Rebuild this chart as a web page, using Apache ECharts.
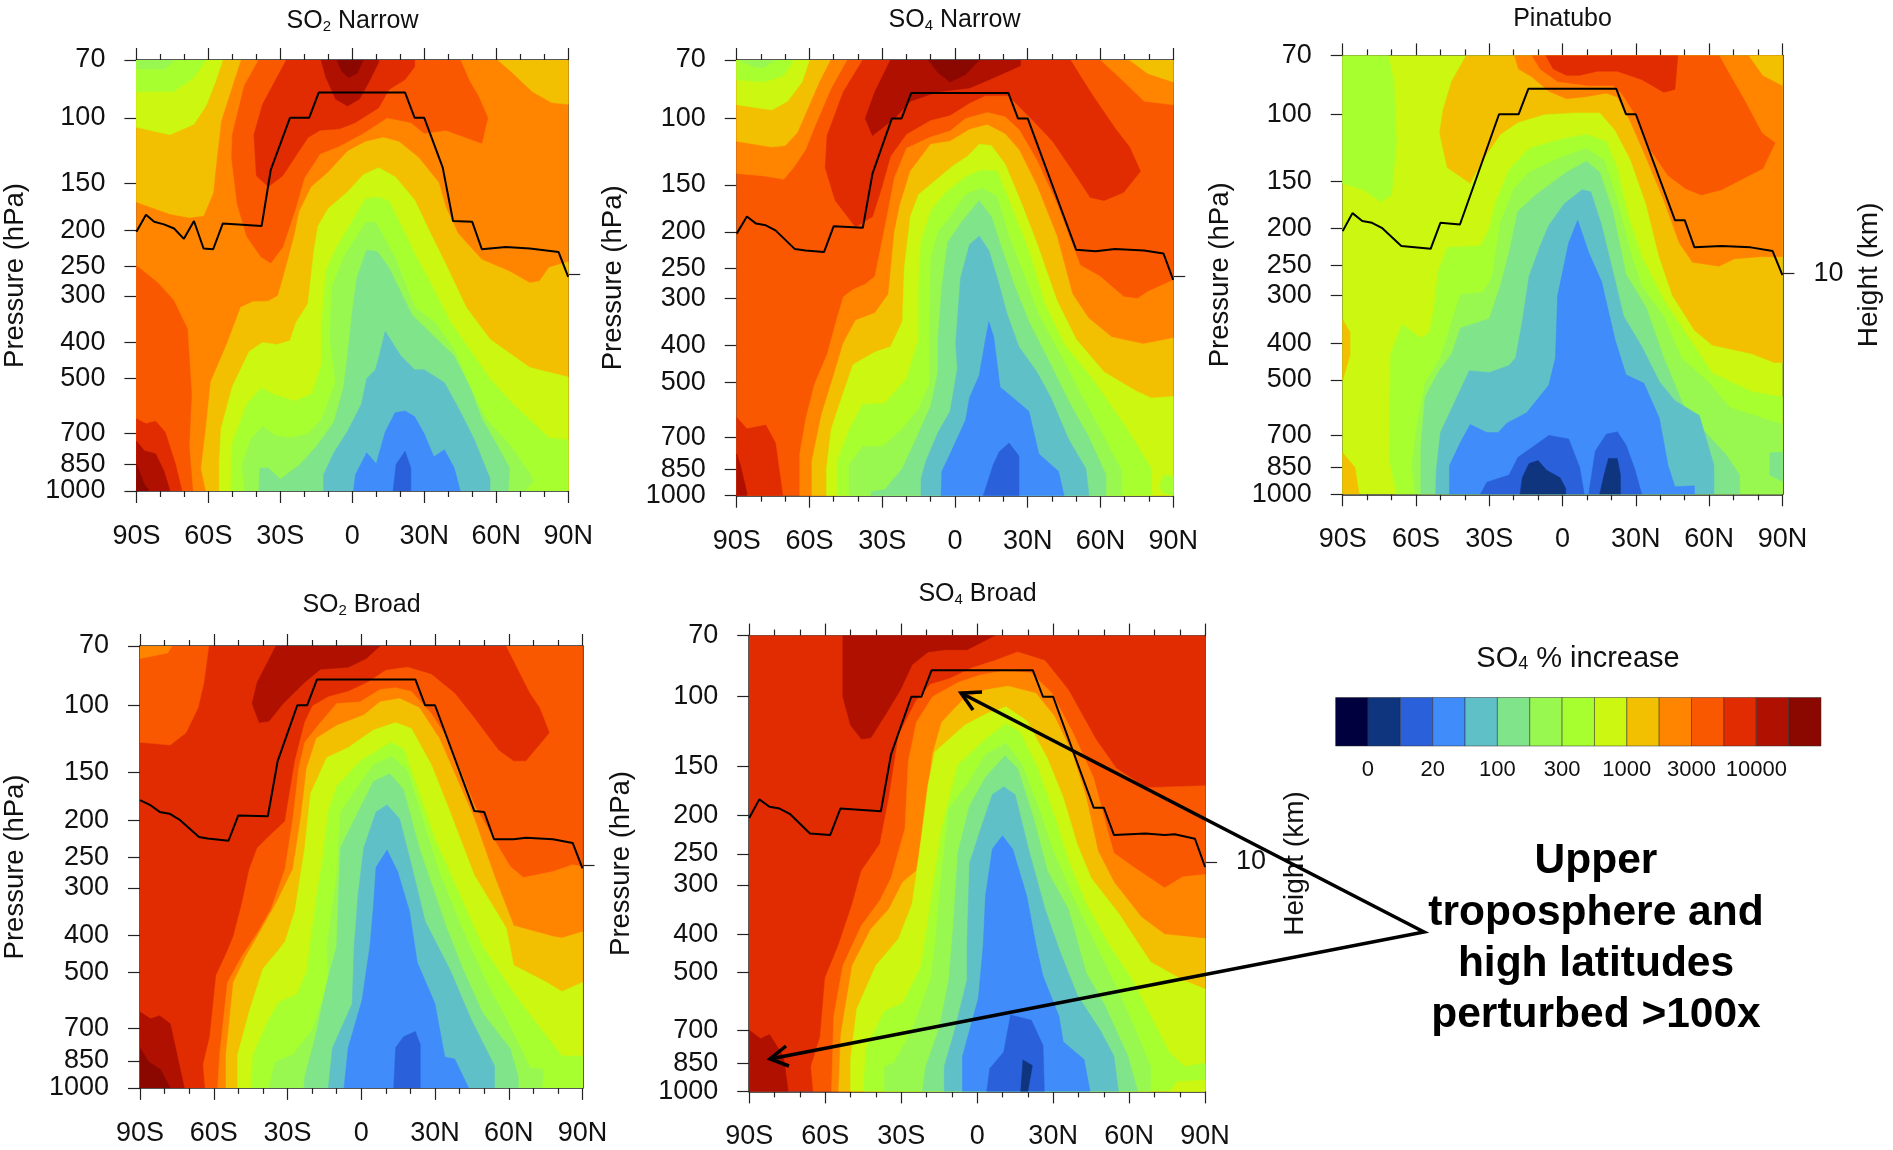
<!DOCTYPE html>
<html><head><meta charset="utf-8"><style>html,body{margin:0;padding:0;background:#fff}#c{width:1893px;height:1150px}</style>
<script src="https://cdn.jsdelivr.net/npm/echarts@6/dist/echarts.min.js"></script></head><body><div id="c"></div>
<script>
const bandColors=['#00003f','#10357f','#2a60da','#3f8cfa','#60c0c8','#80e58a','#98f850','#a8ff30','#cbf710','#f2c000','#ff8500','#f95800','#e02c00','#af1000','#8b0800'];
const legendLabels={1:'0',3:'20',5:'100',7:'300',9:'1000',11:'3000',13:'10000'};
const latTicks={'-90':'90S','-60':'60S','-30':'30S','0':'0','30':'30N','60':'60N','90':'90N'};
const pressureTicks=[70,100,150,200,250,300,400,500,700,850,1000];
const bottomPressure=1000;
const height10kmPressure=262;

// Contours: [band, left edge from apex, right edge from apex] in [lat, hPa, lat, hPa...]
const so2Narrow=[
[10,[-90,70,90,70,90,1000,-90,1000]],
[9,[-90,70,-46.5,70,-50,82,-54.7,102,-57,137,-58,159,-62,183,-68,185,-76,181,-90,168]],
[8,[-90,70,-54,70,-57,80,-61,93,-66,104,-76,111,-90,106]],
[7,[-90,70,-61,70,-66,78,-74.5,85,-90,85]],
[6,[-90,70,-74,70,-78,74,-90,74]],
[9,[60.7,70,67,76,75,85,83,91,90,92,90,70]],
[11,[-39,70,-45,82,-50,111,-50.3,128,-48,170,-44,208,-38,236,-34,245,-29,222,-24,178,-20,145,-13.5,125,-5.3,119,4.6,110,14.5,100,24.4,103,30,110,39,108,54,117,56.5,100,52.4,87,49,80,45,70]],
[12,[-27.5,70,-37.4,92,-41,111,-40,143,-35,153,-29,143,-18.5,113,-13.5,108,-5.3,107,1.3,103,11,94,15.3,84,22,79,26,73,26,70]],
[13,[-13,70,-11,78,-7,89,-2,93,3,89,7,80,11,71,11,70]],
[14,[-6.4,70,-4.4,75,-1.6,78,2,76,4.6,70]],
[11,[-90,249,-81,277,-74.5,308,-68.7,368,-67,550,-68,760,-66.5,1000,-90,1000]],
[12,[-90,640,-86,660,-82,650,-78,695,-73.7,848,-71,1000,-90,1000]],
[13,[-90,735,-86.7,780,-82,795,-78.5,885,-76,1000,-90,1000]],
[14,[-90,845,-86.7,960,-85,990,-85,1000,-90,1000]],
[9,[13,113,5.4,116,-2,123,-10,140,-17,153,-22,178,-24,205,-28,257,-31,300,-35,310,-41.5,311,-46.5,322,-52,400,-59,510,-61,680,-63,870,-61,1000],[19.5,116,27.7,128,36,149,39,174,44,204,54,240,65.6,258,74,277,78,274,82,252,90,243,90,1000]],
[8,[11,136,4.6,142,-2,158,-10,175,-14.3,195,-16,227,-18.5,315,-23.4,353,-26,396,-31.6,405,-37.4,400,-43,423,-50,525,-54.7,680,-55.5,848,-55.5,1000],[18,144,26,166,32.6,204,39,247,47.5,322,57.4,392,74,467,90,495,90,1000]],
[7,[10.4,163,5.4,165,0,189,-7,225,-11,258,-12.7,353,-12.7,456,-16.8,550,-24,574,-31.6,555,-38,530,-44,585,-50,745,-50.6,1000],[15.3,167,21,198,26,231,32.6,277,41,353,49,418,57.4,500,67,585,82,720,90,730,90,1000]],
[6,[9.6,190,5.4,191,-3.6,236,-8.6,285,-9.4,392,-7,512,-12.7,640,-18.5,703,-26,720,-31.6,712,-37.4,672,-42.3,727,-46,848,-45,1000],[17.8,236,21,267,26,322,34.3,353,42.5,418,47.5,500,55.7,640,65.6,752,74,895,75.5,940,72,1000]],
[5,[6,226,2,267,0,330,-2,435,-3.6,525,-7.7,655,-15,760,-21.8,848,-30,930,-35,868,-38.6,868,-39,1000],[10.4,228,15.3,252,21,300,25,338,32.6,377,42.5,435,49,525,54,640,60.7,760,65.6,868,65,1000]],
[4,[13.7,373,11.2,435,9.6,473,6,500,3.8,585,-2,692,-7.7,790,-12,905,-12,1000],[20.3,435,26,473,30,473,38.4,512,45,612,50.8,727,57.4,925,57.4,1000]],
[3,[17.8,617,22,610,26,632,30,703,34,810,38.4,775,42.5,868,45,1000,.5,1000,1.3,905,6,790,10,845,13.7,695]],
[2,[17,1000,18.3,848,22,782,24.4,868,24.4,1000]]
];
const so4Narrow=[
[11,[-90,70,90,70,90,1000,-90,1000]],
[10,[-90,70,-44.5,70,-51,83,-57.5,104,-61.6,121,-66.5,135,-70.6,145,-78.8,142,-90,140]],
[9,[-90,70,-51.4,70,-56,80,-61,95,-65,109,-70,118,-75.5,119,-90,115]],
[8,[-90,70,-60,70,-63,80,-69,90,-75.5,95,-90,92]],
[7,[-90,70,-66.5,70,-70.6,77,-78.8,80,-90,79]],
[6,[-89,70,-83,73,-79,73.5,-74,70]],
[10,[60,70,68,78,78,90,90,92,90,70]],
[9,[72,70,79.5,76,90,80,90,70]],
[12,[-38,70,-46,85,-52.7,111,-53.5,135,-49.4,165,-41,194,-34,182,-30,151,-26.6,126,-20,110,-10,101,-2,98,6,91,12.6,87,22,87,32,101,40.3,115,50,142,55.8,162,61.5,165,69.6,157,76.5,138,72,119,66.4,107,56.6,86.5,47.6,70]],
[13,[-26.6,70,-33,85,-37,100,-34,111,-25,100,-18.4,90,-7,85,6,83,14,79,27,72.5,27,70]],
[14,[-11,70,-7,75.5,-2,80,4.4,76.5,10,70]],
[10,[13.4,96.5,4.4,100,-2,108,-10,112,-20,120,-25,144,-28,182,-33,262,-37,275,-42,284,-46,297,-48.6,338,-52.7,422,-58,508,-61.6,630,-64,775,-64,1000],[20.7,99,26.4,107,33.8,129,42,168,51.7,245,59.8,262,69.6,297,75.3,300,79.4,288,90,268,90,1000]],
[9,[13.4,104,6,107,-2,115,-10,117,-18.4,138,-22.5,168,-25,200,-27.4,292,-33,328,-41,343,-46,394,-50,480,-55,610,-59,810,-59,1000],[20.7,110,26.4,121,33.8,151,42,205,48.4,292,55,338,64.7,380,77.8,396,90,382,90,1000]],
[8,[10,117,5.2,126,-.5,133,-8.6,147,-15,159,-18.4,182,-20.9,249,-21.7,346,-26.6,403,-33,416,-42,449,-46,533,-51,665,-53,847,-53,1000],[15,118,20.7,132,27,165,33.8,214,42,303,50,385,61.5,470,74.5,527,81,551,90,546,90,1000]],
[7,[11,137,4.4,143,-3.8,157,-10,176,-14,213,-15,280,-15,385,-20,490,-29,570,-38,572,-43,655,-48.6,810,-48.6,1000],[17.4,138,22.3,165,30.5,224,37,310,45,396,56.6,490,69.6,645,81,847,81,1000]],
[7,[84.3,945,86.3,880,90,890,90,1000,86,985]],
[6,[11,153,4.4,159,-2,182,-7,200,-10,235,-10.6,385,-10.6,508,-15,588,-21.7,665,-30,742,-38,739,-43.7,830,-43.7,1000],[17.4,161,22.3,205,29,265,34.6,332,43.5,422,51.7,535,59.8,665,68.8,860,68.8,1000]],
[5,[10,165,2.8,188,-3,213,-5.4,280,-7,385,-7,470,-10,578,-16.8,725,-21.7,847,-29,965,-34.4,975,-34.7,1000],[15,182,19,218,24.8,280,30.5,346,39.5,449,46.8,560,55,695,62.3,880,62.3,1000]],
[4,[10,205,6,216,2.3,265,.3,394,1,460,-2,597,-7,680,-12,810,-14,905,-14,1000],[14,224,18,272,21.5,330,26.4,403,33.8,470,39.5,548,46.8,708,54,847,55.3,1000]],
[3,[14,346,12.6,385,10,480,6,550,4.4,630,-2,775,-5.4,862,-5.7,1000],[16,380,18.6,515,30.5,597,34.6,775,42.7,862,45,1000]],
[2,[11.7,1000,15.8,828,18.3,765,22.3,725,26.4,785,26.4,1000]],
[12,[-90,620,-85.8,665,-78,650,-74,725,-71,1000,-90,1000]],
[13,[-90,775,-88.5,830,-85.8,980,-85.8,1000,-90,1000]]
];
const pinatubo=[
[8,[-90,70,90,70,90,1000,-90,1000]],
[7,[-90,70,-71.3,70,-69,82,-68,119,-70,163,-74.5,170,-81.6,158,-90,152]],
[9,[-90,347,-87,375,-87,430,-90,500]],
[9,[-90,778,-85,850,-83.3,1000,-90,1000]],
[9,[-39.4,70,-45.4,82,-49,98,-50.3,112,-47.2,138,-37.8,152,-32.7,132,-25.5,113,-18.3,105,-7.4,100,5.2,99,15.2,99,21.5,110,27.9,132,34.2,172,39.6,237,45,300,54,370,61.3,405,77.6,427,86.6,450,90,450,90,70]],
[10,[-19.7,70,-18,76,-12.8,79.5,-5.6,87,1.6,91,8.9,90,17.9,88,22.4,90,27.9,105,34.2,130,41.4,168,47.8,218,53.2,245,64,251,70.4,240,81.2,237,90,237,90,70]],
[11,[-12.5,70,-9.2,76,-2,82,10.7,84,20.6,84,24.2,88,29.7,100,36,124,43.2,145,50.5,157,56.8,163,65,158,82,139,87,119,81.6,112,74.9,93,68.6,79,64,70]],
[12,[-6.9,70,-3.8,76,1.6,79,7,79,14.3,77,22.4,77,32.4,81,41.4,87.5,46,86,47.2,70]],
[9,[76.3,70,82,79,90,84,90,70]],
[7,[9.8,113,0,116,-13.7,123,-21.9,140,-27.3,170,-30,200,-33.6,222,-47.2,224,-50.8,258,-52.6,322,-54.4,375,-58,388,-65.7,357,-70.4,427,-71,800,-68,1000],[17.9,118,22.4,139,27,186,32.4,237,41.4,308,52.3,392,61.3,480,77.6,537,90,555,90,1000]],
[6,[9.8,123,-1,130,-13.7,142,-20,157,-25.5,193,-29,270,-32.7,294,-41.8,298,-45.4,351,-50,437,-56.3,510,-59.9,680,-61.7,840,-60.4,1000],[17,132,22.4,168,27.9,231,32.4,283,41.4,340,48.7,437,59.5,505,68.6,592,90,655,90,1000]],
[5,[9.8,133,1.6,142,-11,163,-18.3,180,-21.9,231,-25.5,283,-30,345,-41.8,365,-45.4,427,-50.8,476,-56.3,555,-58,750,-58,1000],[15.2,142,20.6,180,26,264,34.2,322,41.4,437,50.5,605,66.8,785,72.5,890,72.5,1000]],
[5,[84.8,778,90,775,90,925,84.8,890]],
[4,[8,158,.7,172,-5.6,196,-9.2,222,-13.7,267,-16.5,351,-19.2,437,-21.9,458,-30,478,-38.2,473,-44.5,578,-50,688,-51.7,865,-52,1000],[11.6,160,16,196,22.4,289,25,340,32.4,408,39.6,505,46,567,56,620,62,840,62,1000]],
[3,[6.2,190,2.5,218,-2,300,-2.9,437,-5.6,516,-14.7,610,-22.8,650,-26.4,688,-31,688,-37.8,655,-41.8,730,-46.3,840,-46.3,1000],[10.7,231,16,276,21.5,392,26,485,33.3,510,39.6,630,43.2,840,46,955,54,950,54,1000]],
[2,[-33.6,1000,-31,930,-21.9,890,-18.3,800,-5.6,700,2.5,715,7,850,8.9,1000]],
[2,[10.7,1000,13.4,770,17.9,695,22.4,685,26,742,29.7,865,32.4,1000]],
[1,[-17.4,1000,-16.5,905,-13.7,830,-10,815,-6.5,865,-1,905,1.3,965,1.3,1000]],
[1,[15.2,1000,17,890,18.8,805,22.4,805,23.7,890,23.7,1000]]
];
const so2Broad=[
[12,[-90,70,90,70,90,1000,-90,1000]],
[11,[-90,70,-62,70,-64,87,-66.4,101.5,-71.3,118,-77.7,127,-90,125]],
[10,[-90,70,-77,70,-78.7,73,-90,75.5]],
[13,[-34.7,70,-42.3,87,-44.4,99,-41.5,111,-37.5,110,-31.8,99,-23,87,-16.6,80.5,-5.3,79.5,2,75.5,7.6,70]],
[11,[18.8,79.5,10,81,2.7,87,-5.3,92,-13.4,95,-19.8,100.5,-23,111,-27,140,-31,201,-37.5,220,-42.3,236,-45.5,268,-48.7,333,-52,402,-55,447,-59,508,-61.6,735,-64.3,870,-63.5,1000],[28.5,83,38,93,46,108,55.8,131,62,140,67,140,76.7,118,72.7,101.5,68.7,93,59,70,90,70,90,1000]],
[10,[14,90,7.6,91,-.5,98,-10,99,-16.6,111,-23,125,-25.4,146,-27.8,198,-31,268,-36.7,341,-42.3,394,-48.7,454,-54.4,530,-57.6,818,-58.4,1000],[20.4,92,28.5,105,35,122,46,182,54,224,60.6,264,66,282,78,272,86,261,90,264,90,1000]],
[9,[15.6,96,7.6,98,1.1,106,-10,113,-18.2,122,-22.2,146,-24.6,198,-27.8,268,-34.3,326,-40.7,386,-47,454,-52,530,-55,818,-55,1000],[23.6,101.5,31.7,122,39.7,160,46,198,54,278,62,377,78,402,81.6,406,90,391,90,1000]],
[8,[14,111,5,116,-5.3,129,-14,137,-20.6,170,-23,236,-27,345,-31,415,-33.5,435,-40,488,-45.5,630,-50.3,818,-50.3,1000],[20.4,115,28.5,143,35,182,46,278,59,382,62,478,75,528,81.6,560,90,530,90,1000]],
[7,[12,125,6.8,131,-.5,140,-10,163,-13.4,190,-15.8,255,-18.2,317,-22.2,497,-26.2,570,-33.5,597,-37.5,660,-44,818,-44.7,1000],[17.2,130,23.6,170,30,224,38,292,49.4,427,62,565,68.7,645,81.6,825,90,825,90,1000]],
[6,[12.4,136,5,143,-.5,160,-8.5,190,-10,278,-14,427,-13.4,530,-19.8,703,-27.8,818,-35,855,-37.5,1000],[18.8,148,25.3,201,31.7,272,41.3,386,51,530,59,660,68.7,885,74.3,895,73.5,1000]],
[5,[11.6,151,5,158,-1.3,190,-8.5,236,-9.3,317,-10,427,-14,530,-18.2,715,-23,937,-23.3,1000],[17.2,166,23.6,236,28.5,292,35,386,41.3,488,49.4,637,60.6,790,63.9,937,63.9,1000]],
[4,[10.5,182,6,190,1,236,-1.3,313,-2.9,427,-3.7,603,-11.7,785,-13.4,1000],[15.6,198,20.4,261,26,367,36.5,497,44.6,660,54.2,875,54.2,1000]],
[3,[10.5,239,6,265,5,333,3.5,427,.3,590,-5.3,785,-7,1000],[14.8,272,19.6,345,22.8,470,30,603,34,830,38,840,43.7,1000]],
[2,[13.2,1000,14,785,17.2,735,22,712,24,770,24,1000]],
[13,[-90,633,-85.7,660,-82,648,-77.7,680,-75.3,800,-72,1000,-90,1000]],
[14,[-90,785,-86.5,855,-81.7,895,-77.7,1000,-90,1000]]
];
const so4Broad=[
[12,[-90,70,90,70,90,1000,-90,1000]],
[13,[-53,70,-53,100,-50,118,-45.7,128,-42,127,-36.6,112,-30.3,96,-25.7,83,-19.4,77,-13,76,-4,76,1.4,73,7,70]],
[11,[16,77,7,81,-2,84.5,-11,90,-18.5,93,-24,102,-31,125,-34.8,180,-38.4,236,-45.7,276,-49.3,335,-54.7,425,-60,515,-62,728,-65.6,865,-64.7,1000],[26.8,81,36,96,46.8,128,55,152,66.7,170,90,168,90,1000]],
[10,[10.5,86,1.4,88,-7.6,92,-17.6,100,-24,116,-27.2,146,-28.5,216,-34,288,-38.4,328,-45.7,380,-53,480,-56.6,645,-57.5,1000],[21.4,87,29.5,98,37.7,123,45.9,160,51.3,216,54,249,61.3,269,74,305,81.2,286,90,282,90,1000]],
[9,[12.3,94,3.3,96,-5.8,102,-14,116,-17.6,140,-20.3,197,-24,276,-29.4,295,-34.8,345,-42,388,-49.3,480,-53.8,718,-54.7,1000],[23.2,98,30.5,112,37.7,140,43,180,47.7,246,54,295,64.9,362,74,400,90,410,90,1000]],
[8,[11.4,106,4.2,110,-4.9,118,-16.7,138,-19.4,167,-23,254,-25.7,335,-31,410,-40,480,-47.5,617,-50,830,-50,1000],[19.6,115,27.7,143,34,180,39.5,236,45,288,55.8,353,68.5,470,81.2,522,90,550,90,1000]],
[7,[11.4,117,3.3,128,-7.6,149,-12,192,-14,216,-18.5,337,-22,480,-29.4,598,-36.6,626,-43.9,780,-44.8,1000],[16.9,123,24,152,30.5,200,36,260,43,335,52,425,61.3,522,75.8,795,82,865,90,848,90,1000]],
[8,[76,1000,79,945,90,935,90,1000]],
[6,[11.4,131,3.3,140,-4,167,-11.2,192,-14,276,-16.7,425,-18.5,522,-25.7,700,-33,848,-36.6,865,-36.6,1000],[17.8,149,24,189,29.5,241,37.7,320,46.8,425,55.8,557,64,733,68.5,865,68.5,1000]],
[5,[11,141,3.3,160,-3,189,-7.6,248,-9.4,380,-11.2,522,-14.9,690,-20.3,865,-21.6,1000],[16,152,22.3,203,27.7,276,36,345,43,500,50.4,605,59.5,813,63.4,1000]],
[4,[10.5,169,6,177,1.4,216,-3,264,-4,425,-4,522,-9.4,720,-13,865,-13,1000],[15,177,20.5,246,26.8,345,32.3,435,39.5,570,48.6,700,54,813,55.8,1000]],
[3,[10,225,6,243,3.3,320,2.4,425,.5,580,-5.8,815,-5.8,1000],[14,243,19.6,320,23.2,425,26,510,32.3,645,34,749,42.2,830,44.6,1000]],
[2,[3.8,1000,5,875,10.5,795,13.2,640,21.4,660,26,765,26.5,1000]],
[1,[17.2,1000,18.1,832,21.8,860,20,1000]],
[13,[-90,700,-85.5,735,-82,718,-76.5,815,-74.6,1000,-90,1000]]
];
const tropSo2Narrow=[[-90,202],[-86,182],[-82.6,190],[-78.5,193],[-74.3,198],[-70.2,211],[-66,189],[-62,224],[-58,225],[-54,192],[-37.8,195],[-34,138],[-26,100],[-18,100],[-14,85.6],[22,85.6],[26,100],[30,100],[37.7,136],[42,189],[50,190],[54,225],[64,222],[74,224],[86,229],[90,267]];
const tropSo4Narrow=[[-90,202],[-85.8,182],[-82,190],[-78,192],[-74,198],[-66,222],[-61.6,224],[-54,226],[-50,193],[-38,195],[-34,140],[-26,100],[-22,100],[-18,85.6],[22,85.6],[26,100],[30,100],[50,223],[58,225],[66,222],[78,224],[86,228],[90,268]];
const tropPinatubo=[[-90,203],[-86,182],[-82,191],[-78,193],[-74,199],[-66,222],[-54,226],[-50,193],[-42,195],[-26,100],[-18,100],[-14,85.7],[22,85.7],[26,100],[30,100],[46,190],[50,190],[54,224],[65,222],[77,224],[86,229],[90,265]];
const tropSo2Broad=[[-90,177],[-86,182],[-82,190],[-78,192],[-74,199],[-66,221],[-62.5,223],[-54,226],[-50,194],[-38,195],[-34,140],[-26,100],[-22,100],[-18,85.6],[22,85.6],[26,100],[30,100],[46,189],[50,190],[54,224],[62,224],[67,222],[78,224],[86,229],[90,267]];
const tropSo4Broad=[[-90,203],[-86,182],[-82,190],[-78,192],[-74,198],[-66,222],[-58,224],[-54,192],[-38,195],[-34,140],[-26,100],[-22,100],[-18,85.7],[22,85.7],[26,100],[30,100],[46,191],[50,191],[54,224],[66.5,222],[74,224],[78,223],[86,229],[90,270]];

const panels=[
 {title:'SO{s|2} Narrow',tx:347.5,ty:16.5,l:136.4,r:568.2,t:60,b:491,gap:107,bands:so2Narrow,trop:tropSo2Narrow,height:false},
 {title:'SO{s|4} Narrow',tx:949.5,ty:15.5,l:736.7,r:1173.2,t:60,b:495.7,gap:109,bands:so4Narrow,trop:tropSo4Narrow,height:false},
 {title:'Pinatubo',tx:1557.5,ty:14,l:1342.7,r:1782.4,t:55.4,b:494.3,gap:108.5,bands:pinatubo,trop:tropPinatubo,height:73},
 {title:'SO{s|2} Broad',tx:356.5,ty:600.5,l:140,r:582.5,t:646,b:1087.9,gap:111,bands:so2Broad,trop:tropSo2Broad,height:false},
 {title:'SO{s|4} Broad',tx:972.5,ty:589.5,l:749.2,r:1205.1,t:635.6,b:1091.4,gap:114,bands:so4Broad,trop:tropSo4Broad,height:76}
];
const FONT='Liberation Sans';
const INK='#111';
function pairs(a){const o=[];for(let i=0;i<a.length;i+=2)o.push([a[i],a[i+1]]);return o;}
function outline(c){const l=pairs(c[1]);return c[2]?l.reverse().concat(pairs(c[2])):l;}
const rich={s:{fontSize:15,fontFamily:FONT,color:INK,verticalAlign:'bottom',padding:[9,0,0,0]}};
const grid=[],xAxis=[],yAxis=[],series=[],title=[];
const line={show:true,lineStyle:{color:'#222',width:1.5}};
panels.forEach((p,i)=>{
 grid.push({left:p.l,top:p.t,width:p.r-p.l,height:p.b-p.t,containLabel:false,outerBoundsMode:'none'});
 const base={type:'value',min:-90,max:90,interval:30,gridIndex:i,axisLine:{...line,onZero:false},splitLine:{show:false},
  axisTick:{show:true,length:12,lineStyle:{color:'#222',width:1.2}},minorTick:{show:true,splitNumber:3,length:6,lineStyle:{color:'#222',width:1.2}}};
 xAxis.push({...base,position:'bottom',axisLabel:{margin:32,fontFamily:FONT,fontSize:27,color:INK,hideOverlap:false,showMinLabel:true,showMaxLabel:true,formatter:v=>latTicks[v]}});
 xAxis.push({...base,position:'top',axisLabel:{show:false}});
 const yb={type:'log',logBase:10,min:70,max:1000,inverse:true,gridIndex:i,splitLine:{show:false},minorTick:{show:false},axisLine:{...line,onZero:false}};
 yAxis.push({...yb,position:'left',name:'Pressure (hPa)',nameLocation:'middle',nameGap:p.gap,nameRotate:90,nameTextStyle:{fontFamily:FONT,fontSize:27.5,color:INK},
  axisTick:{show:true,length:12,customValues:pressureTicks,lineStyle:{color:'#222',width:1.2}},
  axisLabel:{show:true,margin:31,fontFamily:FONT,fontSize:27,color:INK,hideOverlap:false,customValues:pressureTicks.filter(v=>v!==bottomPressure),formatter:v=>String(Math.round(v))}});
 yAxis.push({...yb,position:'right',
  ...(p.height?{name:'Height (km)',nameLocation:'middle',nameGap:p.height,nameRotate:90,nameTextStyle:{fontFamily:FONT,fontSize:28,color:INK}}:{}),
  axisTick:{show:true,length:12,customValues:[height10kmPressure],lineStyle:{color:'#222',width:1.2}},
  axisLabel:{show:!!p.height,margin:31,fontFamily:FONT,fontSize:27,color:INK,customValues:[height10kmPressure],formatter:()=>'10'}});
 const ax=i*2;
 series.push({type:'custom',xAxisIndex:ax,yAxisIndex:ax,clip:true,silent:true,z:2,
  data:p.bands.map((c,k)=>[0,100,k]),encode:{x:0,y:1},
  renderItem:(params,api)=>{const c=p.bands[params.dataIndex];const col=bandColors[c[0]];
   return {type:'polygon',shape:{points:outline(c).map(v=>api.coord(v))},style:{fill:col,stroke:col,lineWidth:.5}};}});
 series.push({type:'line',xAxisIndex:ax,yAxisIndex:ax,data:p.trop,showSymbol:false,symbol:'none',silent:true,z:5,lineStyle:{color:'#000',width:2}});
 // the bottom pressure label sits too close to 850 for the axis to keep both
 series.push({type:'scatter',xAxisIndex:ax,yAxisIndex:ax,silent:true,clip:false,symbolSize:0,z:6,itemStyle:{opacity:1},data:[[-90,bottomPressure]],
  label:{show:true,position:'left',distance:31,opacity:1,fontFamily:FONT,fontSize:27,color:INK,formatter:()=>String(bottomPressure)}});
 title.push({text:p.title,left:p.tx,top:p.ty,textAlign:'center',textVerticalAlign:'middle',textStyle:{fontFamily:FONT,fontSize:25,fontWeight:'normal',color:INK,rich:{...rich}}});
});
// colour key
const keyGrid=panels.length;
grid.push({left:1335.6,top:697.5,width:485.4,height:48.5,outerBoundsMode:'none'});
xAxis.push({type:'value',gridIndex:keyGrid,min:0,max:15,position:'bottom',axisLine:{show:false},axisTick:{show:false},splitLine:{show:false},
 axisLabel:{margin:13,fontFamily:FONT,fontSize:22,color:INK,hideOverlap:false,customValues:Object.keys(legendLabels).map(Number),formatter:v=>legendLabels[v]}});
yAxis.push({type:'value',gridIndex:keyGrid,min:0,max:1,show:false});
series.push({type:'custom',xAxisIndex:xAxis.length-1,yAxisIndex:yAxis.length-1,silent:true,data:bandColors.map((c,k)=>[k,0]),encode:{x:0,y:1},
 renderItem:(params,api)=>{const k=params.dataIndex;const a=api.coord([k,1]),b=api.coord([k+1,0]);
  return {type:'rect',shape:{x:a[0],y:a[1],width:b[0]-a[0],height:b[1]-a[1]},style:{fill:bandColors[k],stroke:'rgba(40,40,40,.7)',lineWidth:.7}};}});
title.push({text:'SO{s|4} % increase',left:1573,top:653.5,textAlign:'center',textVerticalAlign:'middle',textStyle:{fontFamily:FONT,fontSize:29,fontWeight:'normal',color:INK,rich:{s:{fontSize:18,fontFamily:FONT,color:INK,verticalAlign:'bottom',padding:[11,0,0,0]}}}});
const calloutStyle={stroke:'#000',lineWidth:3.5,fill:null};
const callout=[
 [[982,692],[961,693],[973,710]],[[961,693],[1424,932],[770,1059]],[[786,1046],[770,1059],[789,1066]]
].map(pts=>({type:'polyline',z:100,shape:{points:pts},style:calloutStyle}));
const note=['Upper','troposphere and','high latitudes','perturbed >100x'];
const noteText=note.map((t,i)=>({type:'text',z:100,style:{text:t,x:1596,y:861.5+i*51.3,align:'center',verticalAlign:'middle',font:'bold 42.5px "Liberation Sans"',fill:'#000'}}));
const chart=echarts.init(document.getElementById('c'),null,{renderer:'canvas'});
chart.setOption({animation:false,backgroundColor:'#fff',title,grid,xAxis,yAxis,series,graphic:callout.concat(noteText)});
</script></body></html>
